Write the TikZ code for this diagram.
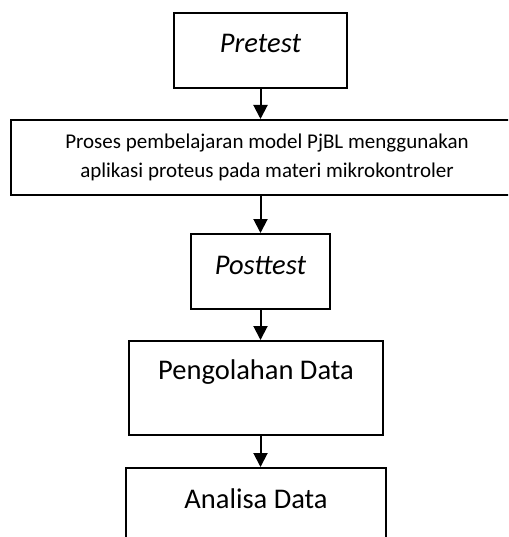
\documentclass[tikz,border=0pt]{standalone}
\usepackage{fontspec}
\setmainfont{Carlito}
\usetikzlibrary{arrows.meta}

\begin{document}
\begin{tikzpicture}[
  x=1pt, y=-1pt,
  box/.style={
    draw, line width=2pt, inner sep=0pt,
    anchor=north west, align=center
  },
  big/.style={font=\fontsize{28.5}{34}\selectfont},
  >={Triangle[width=14pt, length=14pt]}
]
  \clip (0,0) rectangle (508,537);
  \node[box, big, minimum width=173pt, minimum height=75pt,
    text height=12pt, text depth=7pt] (pre) at (173,12){\textit{Pretest}};
  \node[box, minimum width=512pt, minimum height=75pt,
    font=\fontsize{21}{29.5}\selectfont] (proses) at (10,119)
    {Proses pembelajaran model PjBL menggunakan\\aplikasi proteus pada materi mikrokontroler};
  \node[box, big, minimum width=139pt, minimum height=75pt,
    text height=12pt, text depth=7pt] (post) at (190,233){\textit{Posttest}};
  \node[box, big, minimum width=254pt, minimum height=94pt,
    text height=10pt, text depth=28pt] (peng) at (128,340){Pengolahan Data};
  \node[box, big, minimum width=260pt, minimum height=80pt,
    text height=10pt, text depth=10pt] (anal) at (125,467){Analisa Data};
  \draw[->, line width=2pt] (pre) -- (pre |- proses.north);
  \draw[->, line width=2pt] (post.north |- proses.south) -- (post.north);
  \draw[->, line width=2pt] (post) -- (post |- peng.north);
  \draw[->, line width=2pt] (peng.south -| post) -- (anal.north -| post);
\end{tikzpicture}
\end{document}
